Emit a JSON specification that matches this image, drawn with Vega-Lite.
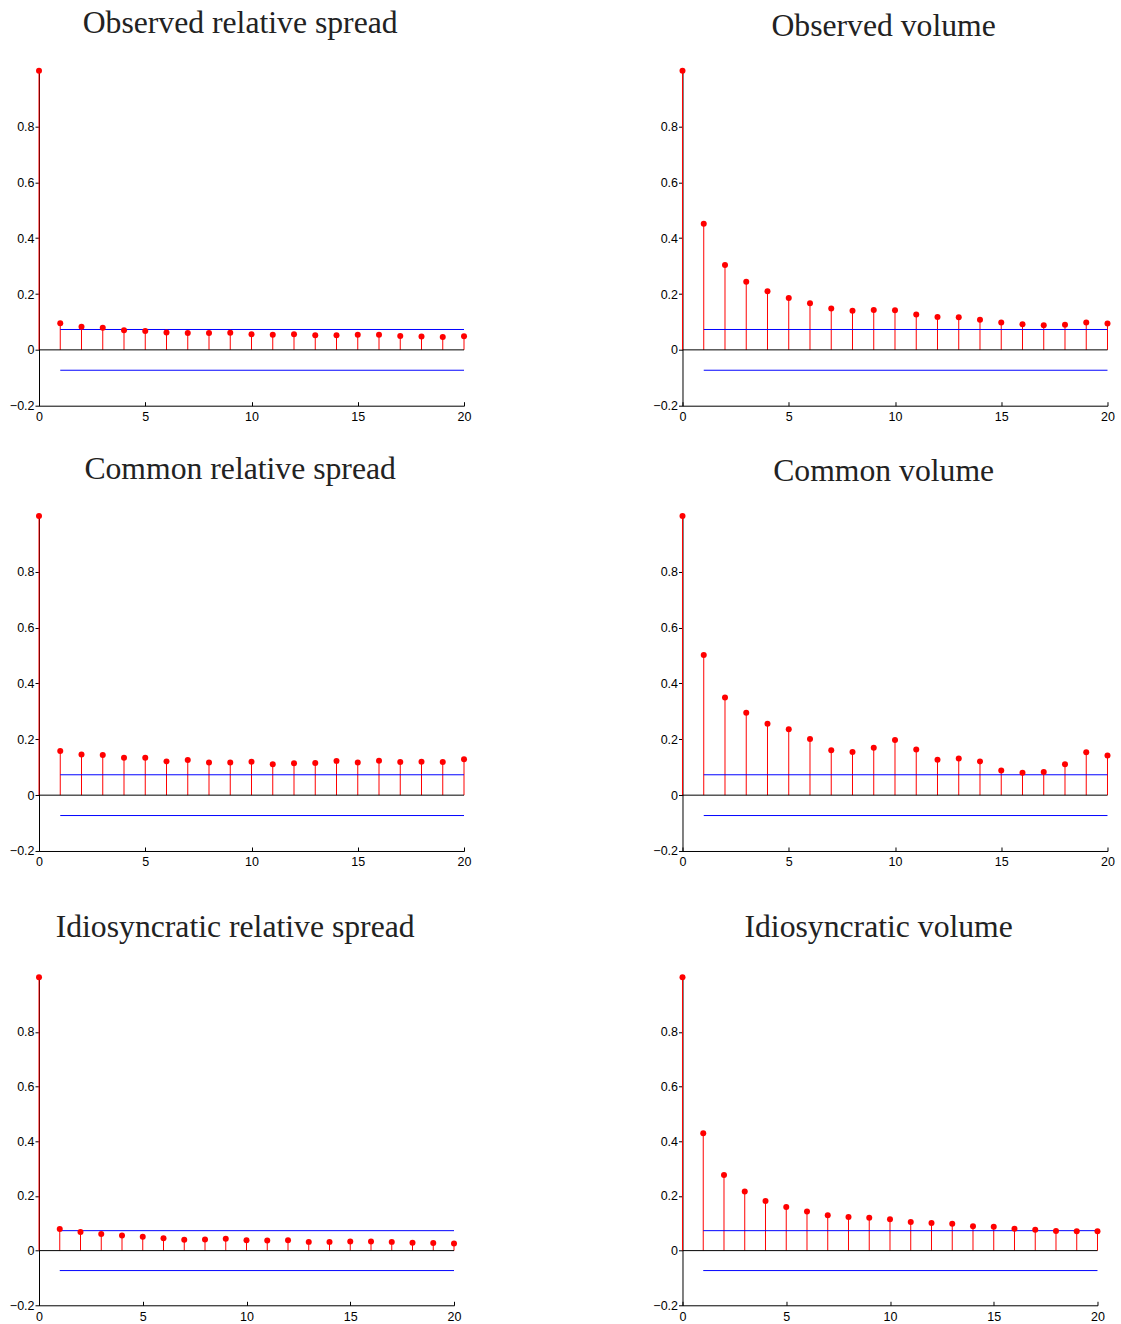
{
  "$schema": "https://vega.github.io/schema/vega-lite/v6.json",
  "padding": {"left": 9, "top": 7.7, "right": 5, "bottom": 2},
  "background": "white",
  "datasets": {
    "acf": [
      {"panel":"ORS","lag":0,"acf":1},{"panel":"ORS","lag":1,"acf":0.095},{"panel":"ORS","lag":2,"acf":0.083},{"panel":"ORS","lag":3,"acf":0.079},{"panel":"ORS","lag":4,"acf":0.070},{"panel":"ORS","lag":5,"acf":0.068},{"panel":"ORS","lag":6,"acf":0.062},{"panel":"ORS","lag":7,"acf":0.060},{"panel":"ORS","lag":8,"acf":0.060},{"panel":"ORS","lag":9,"acf":0.061},{"panel":"ORS","lag":10,"acf":0.056},{"panel":"ORS","lag":11,"acf":0.054},{"panel":"ORS","lag":12,"acf":0.056},{"panel":"ORS","lag":13,"acf":0.052},{"panel":"ORS","lag":14,"acf":0.052},{"panel":"ORS","lag":15,"acf":0.054},{"panel":"ORS","lag":16,"acf":0.054},{"panel":"ORS","lag":17,"acf":0.050},{"panel":"ORS","lag":18,"acf":0.048},{"panel":"ORS","lag":19,"acf":0.046},{"panel":"ORS","lag":20,"acf":0.049},
      {"panel":"OV","lag":0,"acf":1},{"panel":"OV","lag":1,"acf":0.452},{"panel":"OV","lag":2,"acf":0.304},{"panel":"OV","lag":3,"acf":0.244},{"panel":"OV","lag":4,"acf":0.210},{"panel":"OV","lag":5,"acf":0.186},{"panel":"OV","lag":6,"acf":0.167},{"panel":"OV","lag":7,"acf":0.148},{"panel":"OV","lag":8,"acf":0.140},{"panel":"OV","lag":9,"acf":0.143},{"panel":"OV","lag":10,"acf":0.142},{"panel":"OV","lag":11,"acf":0.127},{"panel":"OV","lag":12,"acf":0.118},{"panel":"OV","lag":13,"acf":0.117},{"panel":"OV","lag":14,"acf":0.108},{"panel":"OV","lag":15,"acf":0.098},{"panel":"OV","lag":16,"acf":0.092},{"panel":"OV","lag":17,"acf":0.088},{"panel":"OV","lag":18,"acf":0.090},{"panel":"OV","lag":19,"acf":0.098},{"panel":"OV","lag":20,"acf":0.094},
      {"panel":"CRS","lag":0,"acf":1},{"panel":"CRS","lag":1,"acf":0.158},{"panel":"CRS","lag":2,"acf":0.146},{"panel":"CRS","lag":3,"acf":0.144},{"panel":"CRS","lag":4,"acf":0.134},{"panel":"CRS","lag":5,"acf":0.134},{"panel":"CRS","lag":6,"acf":0.121},{"panel":"CRS","lag":7,"acf":0.126},{"panel":"CRS","lag":8,"acf":0.117},{"panel":"CRS","lag":9,"acf":0.117},{"panel":"CRS","lag":10,"acf":0.120},{"panel":"CRS","lag":11,"acf":0.111},{"panel":"CRS","lag":12,"acf":0.114},{"panel":"CRS","lag":13,"acf":0.115},{"panel":"CRS","lag":14,"acf":0.122},{"panel":"CRS","lag":15,"acf":0.117},{"panel":"CRS","lag":16,"acf":0.123},{"panel":"CRS","lag":17,"acf":0.119},{"panel":"CRS","lag":18,"acf":0.120},{"panel":"CRS","lag":19,"acf":0.119},{"panel":"CRS","lag":20,"acf":0.129},
      {"panel":"CV","lag":0,"acf":1},{"panel":"CV","lag":1,"acf":0.502},{"panel":"CV","lag":2,"acf":0.350},{"panel":"CV","lag":3,"acf":0.295},{"panel":"CV","lag":4,"acf":0.256},{"panel":"CV","lag":5,"acf":0.236},{"panel":"CV","lag":6,"acf":0.201},{"panel":"CV","lag":7,"acf":0.161},{"panel":"CV","lag":8,"acf":0.155},{"panel":"CV","lag":9,"acf":0.170},{"panel":"CV","lag":10,"acf":0.198},{"panel":"CV","lag":11,"acf":0.164},{"panel":"CV","lag":12,"acf":0.127},{"panel":"CV","lag":13,"acf":0.131},{"panel":"CV","lag":14,"acf":0.121},{"panel":"CV","lag":15,"acf":0.088},{"panel":"CV","lag":16,"acf":0.080},{"panel":"CV","lag":17,"acf":0.083},{"panel":"CV","lag":18,"acf":0.111},{"panel":"CV","lag":19,"acf":0.154},{"panel":"CV","lag":20,"acf":0.142},
      {"panel":"IRS","lag":0,"acf":1},{"panel":"IRS","lag":1,"acf":0.079},{"panel":"IRS","lag":2,"acf":0.068},{"panel":"IRS","lag":3,"acf":0.061},{"panel":"IRS","lag":4,"acf":0.055},{"panel":"IRS","lag":5,"acf":0.051},{"panel":"IRS","lag":6,"acf":0.045},{"panel":"IRS","lag":7,"acf":0.040},{"panel":"IRS","lag":8,"acf":0.041},{"panel":"IRS","lag":9,"acf":0.043},{"panel":"IRS","lag":10,"acf":0.038},{"panel":"IRS","lag":11,"acf":0.037},{"panel":"IRS","lag":12,"acf":0.038},{"panel":"IRS","lag":13,"acf":0.032},{"panel":"IRS","lag":14,"acf":0.032},{"panel":"IRS","lag":15,"acf":0.033},{"panel":"IRS","lag":16,"acf":0.033},{"panel":"IRS","lag":17,"acf":0.032},{"panel":"IRS","lag":18,"acf":0.029},{"panel":"IRS","lag":19,"acf":0.028},{"panel":"IRS","lag":20,"acf":0.026},
      {"panel":"IV","lag":0,"acf":1},{"panel":"IV","lag":1,"acf":0.429},{"panel":"IV","lag":2,"acf":0.277},{"panel":"IV","lag":3,"acf":0.216},{"panel":"IV","lag":4,"acf":0.182},{"panel":"IV","lag":5,"acf":0.160},{"panel":"IV","lag":6,"acf":0.143},{"panel":"IV","lag":7,"acf":0.129},{"panel":"IV","lag":8,"acf":0.123},{"panel":"IV","lag":9,"acf":0.120},{"panel":"IV","lag":10,"acf":0.115},{"panel":"IV","lag":11,"acf":0.105},{"panel":"IV","lag":12,"acf":0.101},{"panel":"IV","lag":13,"acf":0.098},{"panel":"IV","lag":14,"acf":0.089},{"panel":"IV","lag":15,"acf":0.087},{"panel":"IV","lag":16,"acf":0.080},{"panel":"IV","lag":17,"acf":0.076},{"panel":"IV","lag":18,"acf":0.072},{"panel":"IV","lag":19,"acf":0.071},{"panel":"IV","lag":20,"acf":0.071}
    ],
    "bounds": [{"limit": 0.073}, {"limit": -0.073}],
    "base": [{"zero": 0}]
  },
  "columns": 2,
  "spacing": {"row": 29.3, "column": 181.5},
  "concat": [
    {
      "width": 425, "height": 335,
      "title": {"text": "Observed relative spread", "offset": 28.3},
      "layer": [
        {"data": {"name": "acf"}, "transform": [{"filter": "datum.panel === 'ORS'"}], "mark": {"type": "rule", "color": "#ff0000", "strokeWidth": 1}, "encoding": {"x": {"field": "lag", "type": "quantitative", "title": null, "scale": {"domain": [0, 20], "nice": false, "zero": false}, "axis": {"values": [0, 5, 10, 15, 20], "format": "d"}}, "y": {"field": "acf", "type": "quantitative", "title": null, "scale": {"domain": [-0.2, 1], "nice": false, "zero": false}, "axis": {"values": [-0.2, 0, 0.2, 0.4, 0.6, 0.8], "format": "~g"}}, "y2": {"datum": 0}}},
        {"data": {"name": "base"}, "mark": {"type": "rule", "color": "#000000", "strokeWidth": 1}, "encoding": {"x": {"datum": 0, "type": "quantitative", "title": null}, "x2": {"datum": 20}, "y": {"field": "zero", "type": "quantitative", "title": null}}},
        {"data": {"name": "bounds"}, "mark": {"type": "rule", "color": "#0000ff", "strokeWidth": 1}, "encoding": {"x": {"datum": 1, "type": "quantitative", "title": null}, "x2": {"datum": 20}, "y": {"field": "limit", "type": "quantitative", "title": null}}},
        {"data": {"name": "acf"}, "transform": [{"filter": "datum.panel === 'ORS'"}], "mark": {"type": "point", "filled": true, "color": "#ff0000", "opacity": 1, "size": 36}, "encoding": {"x": {"field": "lag", "type": "quantitative", "title": null}, "y": {"field": "acf", "type": "quantitative", "title": null}}}
      ]
    },
    {
      "width": 425, "height": 335,
      "title": {"text": "Observed volume", "offset": 25},
      "layer": [
        {"data": {"name": "acf"}, "transform": [{"filter": "datum.panel === 'OV'"}], "mark": {"type": "rule", "color": "#ff0000", "strokeWidth": 1}, "encoding": {"x": {"field": "lag", "type": "quantitative", "title": null, "scale": {"domain": [0, 20], "nice": false, "zero": false}, "axis": {"values": [0, 5, 10, 15, 20], "format": "d"}}, "y": {"field": "acf", "type": "quantitative", "title": null, "scale": {"domain": [-0.2, 1], "nice": false, "zero": false}, "axis": {"values": [-0.2, 0, 0.2, 0.4, 0.6, 0.8], "format": "~g"}}, "y2": {"datum": 0}}},
        {"data": {"name": "base"}, "mark": {"type": "rule", "color": "#000000", "strokeWidth": 1}, "encoding": {"x": {"datum": 0, "type": "quantitative", "title": null}, "x2": {"datum": 20}, "y": {"field": "zero", "type": "quantitative", "title": null}}},
        {"data": {"name": "bounds"}, "mark": {"type": "rule", "color": "#0000ff", "strokeWidth": 1}, "encoding": {"x": {"datum": 1, "type": "quantitative", "title": null}, "x2": {"datum": 20}, "y": {"field": "limit", "type": "quantitative", "title": null}}},
        {"data": {"name": "acf"}, "transform": [{"filter": "datum.panel === 'OV'"}], "mark": {"type": "point", "filled": true, "color": "#ff0000", "opacity": 1, "size": 36}, "encoding": {"x": {"field": "lag", "type": "quantitative", "title": null}, "y": {"field": "acf", "type": "quantitative", "title": null}}}
      ]
    },
    {
      "width": 425, "height": 335,
      "title": {"text": "Common relative spread", "offset": 27.7},
      "layer": [
        {"data": {"name": "acf"}, "transform": [{"filter": "datum.panel === 'CRS'"}], "mark": {"type": "rule", "color": "#ff0000", "strokeWidth": 1}, "encoding": {"x": {"field": "lag", "type": "quantitative", "title": " ", "scale": {"domain": [0, 20], "nice": false, "zero": false}, "axis": {"values": [0, 5, 10, 15, 20], "format": "d", "titlePadding": 3, "titleFontSize": 12}}, "y": {"field": "acf", "type": "quantitative", "title": null, "scale": {"domain": [-0.2, 1], "nice": false, "zero": false}, "axis": {"values": [-0.2, 0, 0.2, 0.4, 0.6, 0.8], "format": "~g"}}, "y2": {"datum": 0}}},
        {"data": {"name": "base"}, "mark": {"type": "rule", "color": "#000000", "strokeWidth": 1}, "encoding": {"x": {"datum": 0, "type": "quantitative", "title": " "}, "x2": {"datum": 20}, "y": {"field": "zero", "type": "quantitative", "title": null}}},
        {"data": {"name": "bounds"}, "mark": {"type": "rule", "color": "#0000ff", "strokeWidth": 1}, "encoding": {"x": {"datum": 1, "type": "quantitative", "title": " "}, "x2": {"datum": 20}, "y": {"field": "limit", "type": "quantitative", "title": null}}},
        {"data": {"name": "acf"}, "transform": [{"filter": "datum.panel === 'CRS'"}], "mark": {"type": "point", "filled": true, "color": "#ff0000", "opacity": 1, "size": 36}, "encoding": {"x": {"field": "lag", "type": "quantitative", "title": " "}, "y": {"field": "acf", "type": "quantitative", "title": null}}}
      ]
    },
    {
      "width": 425, "height": 335,
      "title": {"text": "Common volume", "offset": 25.3},
      "layer": [
        {"data": {"name": "acf"}, "transform": [{"filter": "datum.panel === 'CV'"}], "mark": {"type": "rule", "color": "#ff0000", "strokeWidth": 1}, "encoding": {"x": {"field": "lag", "type": "quantitative", "title": " ", "scale": {"domain": [0, 20], "nice": false, "zero": false}, "axis": {"values": [0, 5, 10, 15, 20], "format": "d", "titlePadding": 3, "titleFontSize": 12}}, "y": {"field": "acf", "type": "quantitative", "title": null, "scale": {"domain": [-0.2, 1], "nice": false, "zero": false}, "axis": {"values": [-0.2, 0, 0.2, 0.4, 0.6, 0.8], "format": "~g"}}, "y2": {"datum": 0}}},
        {"data": {"name": "base"}, "mark": {"type": "rule", "color": "#000000", "strokeWidth": 1}, "encoding": {"x": {"datum": 0, "type": "quantitative", "title": " "}, "x2": {"datum": 20}, "y": {"field": "zero", "type": "quantitative", "title": null}}},
        {"data": {"name": "bounds"}, "mark": {"type": "rule", "color": "#0000ff", "strokeWidth": 1}, "encoding": {"x": {"datum": 1, "type": "quantitative", "title": " "}, "x2": {"datum": 20}, "y": {"field": "limit", "type": "quantitative", "title": null}}},
        {"data": {"name": "acf"}, "transform": [{"filter": "datum.panel === 'CV'"}], "mark": {"type": "point", "filled": true, "color": "#ff0000", "opacity": 1, "size": 36}, "encoding": {"x": {"field": "lag", "type": "quantitative", "title": " "}, "y": {"field": "acf", "type": "quantitative", "title": null}}}
      ]
    },
    {
      "width": 415, "height": 328,
      "title": {"text": "Idiosyncratic relative spread", "offset": 30.3},
      "layer": [
        {"data": {"name": "acf"}, "transform": [{"filter": "datum.panel === 'IRS'"}], "mark": {"type": "rule", "color": "#ff0000", "strokeWidth": 1}, "encoding": {"x": {"field": "lag", "type": "quantitative", "title": null, "scale": {"domain": [0, 20], "nice": false, "zero": false}, "axis": {"values": [0, 5, 10, 15, 20], "format": "d"}}, "y": {"field": "acf", "type": "quantitative", "title": null, "scale": {"domain": [-0.2, 1], "nice": false, "zero": false}, "axis": {"values": [-0.2, 0, 0.2, 0.4, 0.6, 0.8], "format": "~g"}}, "y2": {"datum": 0}}},
        {"data": {"name": "base"}, "mark": {"type": "rule", "color": "#000000", "strokeWidth": 1}, "encoding": {"x": {"datum": 0, "type": "quantitative", "title": null}, "x2": {"datum": 20}, "y": {"field": "zero", "type": "quantitative", "title": null}}},
        {"data": {"name": "bounds"}, "mark": {"type": "rule", "color": "#0000ff", "strokeWidth": 1}, "encoding": {"x": {"datum": 1, "type": "quantitative", "title": null}, "x2": {"datum": 20}, "y": {"field": "limit", "type": "quantitative", "title": null}}},
        {"data": {"name": "acf"}, "transform": [{"filter": "datum.panel === 'IRS'"}], "mark": {"type": "point", "filled": true, "color": "#ff0000", "opacity": 1, "size": 36}, "encoding": {"x": {"field": "lag", "type": "quantitative", "title": null}, "y": {"field": "acf", "type": "quantitative", "title": null}}}
      ]
    },
    {
      "width": 415, "height": 328,
      "title": {"text": "Idiosyncratic volume", "offset": 30.3},
      "layer": [
        {"data": {"name": "acf"}, "transform": [{"filter": "datum.panel === 'IV'"}], "mark": {"type": "rule", "color": "#ff0000", "strokeWidth": 1}, "encoding": {"x": {"field": "lag", "type": "quantitative", "title": null, "scale": {"domain": [0, 20], "nice": false, "zero": false}, "axis": {"values": [0, 5, 10, 15, 20], "format": "d"}}, "y": {"field": "acf", "type": "quantitative", "title": null, "scale": {"domain": [-0.2, 1], "nice": false, "zero": false}, "axis": {"values": [-0.2, 0, 0.2, 0.4, 0.6, 0.8], "format": "~g"}}, "y2": {"datum": 0}}},
        {"data": {"name": "base"}, "mark": {"type": "rule", "color": "#000000", "strokeWidth": 1}, "encoding": {"x": {"datum": 0, "type": "quantitative", "title": null}, "x2": {"datum": 20}, "y": {"field": "zero", "type": "quantitative", "title": null}}},
        {"data": {"name": "bounds"}, "mark": {"type": "rule", "color": "#0000ff", "strokeWidth": 1}, "encoding": {"x": {"datum": 1, "type": "quantitative", "title": null}, "x2": {"datum": 20}, "y": {"field": "limit", "type": "quantitative", "title": null}}},
        {"data": {"name": "acf"}, "transform": [{"filter": "datum.panel === 'IV'"}], "mark": {"type": "point", "filled": true, "color": "#ff0000", "opacity": 1, "size": 36}, "encoding": {"x": {"field": "lag", "type": "quantitative", "title": null}, "y": {"field": "acf", "type": "quantitative", "title": null}}}
      ]
    }
  ],
  "config": {
    "view": {"stroke": null},
    "title": {"font": "Liberation Serif", "fontSize": 31.7, "fontWeight": "normal", "color": "#222222", "anchor": "middle", "frame": "bounds", "baseline": "alphabetic"},
    "axis": {"grid": false, "labelFlush": false, "labelOverlap": false, "domainColor": "#000000", "domainWidth": 1, "tickColor": "#000000", "tickWidth": 1, "labelColor": "#000000", "labelFont": "Liberation Sans", "labelFontSize": 12.5, "titleFont": "Liberation Sans"},
    "axisX": {"tickSize": -4, "labelPadding": 9},
    "axisY": {"tickSize": 4, "labelPadding": 1}
  }
}
